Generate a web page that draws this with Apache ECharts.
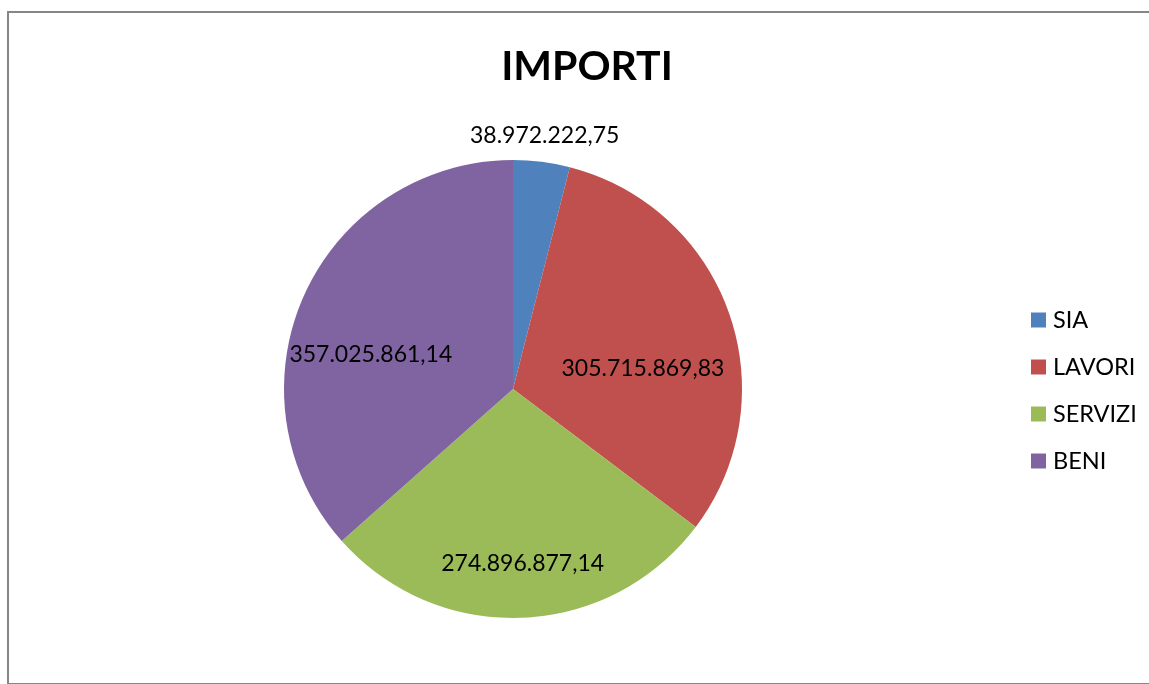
<!DOCTYPE html>
<html>
<head>
<meta charset="utf-8">
<script src="https://cdn.jsdelivr.net/npm/echarts@6/dist/echarts.min.js"></script>
<style>
  html, body { margin: 0; padding: 0; background: #fff; overflow: hidden; }
  #wrap { position: relative; width: 1149px; height: 684px; overflow: hidden; }
  #frame { position: absolute; left: 7px; top: 11px; width: 1142px; height: 670px; border-left: 2px solid #868686; border-top: 2px solid #868686; border-bottom: 2px solid #868686; box-sizing: content-box; }
  #chart { position: absolute; left: 0; top: 0; width: 1149px; height: 684px; }
</style>
</head>
<body>
<div id="wrap">
  <div id="frame"></div>
  <div id="chart"></div>
</div>
<script>
const titleText = 'IMPORTI';
const categories = ['SIA', 'LAVORI', 'SERVIZI', 'BENI'];
const values = [38972222.75, 305715869.83, 274896877.14, 357025861.14];
const colors = ['#4F81BD', '#C0504D', '#9BBB59', '#8064A2'];
// label nudges relative to the library's inside label position
const labelNudge = [[17, -137], [19, 18], [5, 57], [-35, 14]];

function fmtIT(v) {
  const parts = v.toFixed(2).split('.');
  const intPart = parts[0].replace(/\B(?=(\d{3})+(?!\d))/g, '.');
  return intPart + ',' + parts[1];
}

const FONT = 'Lato, "Open Sans", sans-serif';
const chart = echarts.init(document.getElementById('chart'), null, { renderer: 'canvas' });
chart.setOption({
  animation: false,
  color: colors,
  title: {
    text: titleText,
    left: 582,
    textAlign: 'center',
    top: 41,
    textStyle: { fontFamily: FONT, fontSize: 41, fontWeight: 'bold', color: '#000' }
  },
  legend: {
    orient: 'vertical',
    left: 1026,
    top: 303,
    itemWidth: 15,
    itemHeight: 15,
    itemGap: 23,
    icon: 'rect',
    textStyle: { fontFamily: FONT, fontSize: 23.5, color: '#000', lineHeight: 23, padding: [0, 0, 0, 2] },
    data: categories
  },
  series: [{
    type: 'pie',
    center: [513, 389],
    radius: 229,
    startAngle: 90,
    clockwise: true,
    itemStyle: { borderWidth: 0 },
    label: {
      show: true,
      position: 'inside',
      color: '#000',
      fontFamily: FONT,
      fontSize: 23,
      formatter: p => fmtIT(p.value)
    },
    labelLine: { show: false },
    emphasis: { disabled: true },
    labelLayout: p => ({ dx: labelNudge[p.dataIndex][0], dy: labelNudge[p.dataIndex][1] }),
    data: categories.map((c, i) => ({ name: c, value: values[i] }))
  }]
});
</script>
</body>
</html>
